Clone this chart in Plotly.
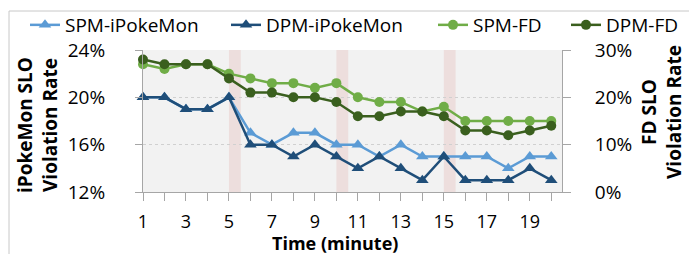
import plotly.graph_objects as go

minutes = list(range(1, 21))
x_tick_vals = list(range(1, 21))
x_tick_text = [str(v) if v % 2 == 1 else "" for v in x_tick_vals]

spm_ipokemon = [20, 20, 19, 19, 20, 17, 16, 17, 17, 16, 16, 15, 16, 15, 15, 15, 15, 14, 15, 15]
dpm_ipokemon = [20, 20, 19, 19, 20, 16, 16, 15, 16, 15, 14, 15, 14, 13, 15, 13, 13, 13, 14, 13]
spm_fd = [27, 26, 27, 27, 25, 24, 23, 23, 22, 23, 20, 19, 19, 17, 18, 15, 15, 15, 15, 15]
dpm_fd = [28, 27, 27, 27, 24, 21, 21, 20, 20, 19, 16, 16, 17, 17, 16, 13, 13, 12, 13, 14]

left_ticks = [12, 16, 20, 24]
left_tick_text = ["12%", "16%", "20%", "24%"]
right_ticks = [0, 10, 20, 30]
right_tick_text = ["0%", "10%", "20%", "30%"]

change_points = [5, 10, 15]
band_width = 0.55

FONT = "Open Sans"
L, R, T, B = 143, 562, 50, 192
W, H = 689, 254


def px_x(p):
    return (p - L) / (R - L)


def px_y(p):
    return (B - p) / (B - T)


fig = go.Figure()

series = [
    ("SPM-iPokeMon", spm_ipokemon, "#5b9bd5", "triangle-up", "y", "legend"),
    ("DPM-iPokeMon", dpm_ipokemon, "#1f4e79", "triangle-up", "y", "legend2"),
    ("SPM-FD", spm_fd, "#70ad47", "circle", "y2", "legend3"),
    ("DPM-FD", dpm_fd, "#3a5f1e", "circle", "y2", "legend4"),
]
for name, vals, color, sym, yax, leg in series:
    fig.add_trace(go.Scatter(
        x=minutes, y=vals, name=name, mode="lines+markers",
        line=dict(color=color, width=2.5),
        marker=dict(symbol=sym, size=10 if sym == "circle" else 11, color=color),
        yaxis=yax, legend=leg, cliponaxis=False,
    ))

for c in change_points:
    fig.add_shape(type="rect", xref="x", yref="paper", x0=c, x1=c + band_width,
                  y0=0, y1=1, fillcolor="rgba(230,185,184,0.35)", line_width=0,
                  layer="below")

# outer chart border (top and left)
fig.add_shape(type="line", xref="paper", yref="paper", x0=px_x(9), x1=px_x(W + 5),
              y0=px_y(11), y1=px_y(11), line=dict(color="#c8c8c8", width=1))
fig.add_shape(type="line", xref="paper", yref="paper", x0=px_x(9), x1=px_x(9),
              y0=px_y(11), y1=px_y(H + 5), line=dict(color="#c8c8c8", width=1))

leg_common = dict(orientation="h", xanchor="left", yanchor="middle",
                  font=dict(family=FONT, size=19, color="black"),
                  bgcolor="rgba(0,0,0,0)", borderwidth=0, tracegroupgap=0)
starts = [25, 226, 433, 566]
layout_legs = {}
for i, s in enumerate(starts):
    key = "legend" if i == 0 else f"legend{i + 1}"
    layout_legs[key] = dict(x=px_x(s), y=px_y(25), **leg_common)

fig.add_annotation(text="<b>Time (minute)</b>", xref="paper", yref="paper",
                   x=px_x(335), y=px_y(243), showarrow=False,
                   xanchor="center", yanchor="middle",
                   font=dict(family=FONT, size=18, color="black"))
fig.add_annotation(text="<b>iPokeMon SLO<br>Violation Rate</b>", xref="paper", yref="paper",
                   x=px_x(37), y=px_y(125), showarrow=False, textangle=-90,
                   xanchor="center", yanchor="middle",
                   font=dict(family=FONT, size=19, color="black"))
fig.add_annotation(text="<b>FD SLO<br>Violation Rate</b>", xref="paper", yref="paper",
                   x=px_x(661), y=px_y(112), showarrow=False, textangle=-90,
                   xanchor="center", yanchor="middle",
                   font=dict(family=FONT, size=19, color="black"))

fig.update_layout(
    width=W, height=H,
    margin=dict(l=L, r=W - R, t=T, b=H - B, pad=0, autoexpand=False),
    paper_bgcolor="white", plot_bgcolor="#f2f2f2",
    font=dict(family=FONT, size=19, color="black"),
    showlegend=True,
    xaxis=dict(range=[1, 20.5], tickmode="array", tickvals=x_tick_vals, ticktext=x_tick_text,
               ticks="outside", ticklen=8, tickcolor="#a6a6a6", showline=True,
               linecolor="#a6a6a6", linewidth=1, showgrid=False, zeroline=False,
               ticklabelstandoff=5, tickfont=dict(size=18)),
    yaxis=dict(range=[12, 24], tickmode="array", tickvals=left_ticks, ticktext=left_tick_text,
               ticks="outside", ticklen=7, tickcolor="#a6a6a6", showline=True,
               linecolor="#a6a6a6", linewidth=1, showgrid=True, gridcolor="#d0d0d0",
               griddash="dot", gridwidth=1, zeroline=False, ticklabelstandoff=26),
    yaxis2=dict(range=[0, 30], overlaying="y", side="right", tickmode="array",
                tickvals=right_ticks, ticktext=right_tick_text, ticks="outside", ticklen=8,
                tickcolor="#a6a6a6", showline=True, linecolor="#a6a6a6", linewidth=1,
                showgrid=False, zeroline=False, ticklabelstandoff=20),
    **layout_legs,
)

fig.write_html("out.html", config={"displayModeBar": False},
               post_script="document.body.style.margin='0';")
